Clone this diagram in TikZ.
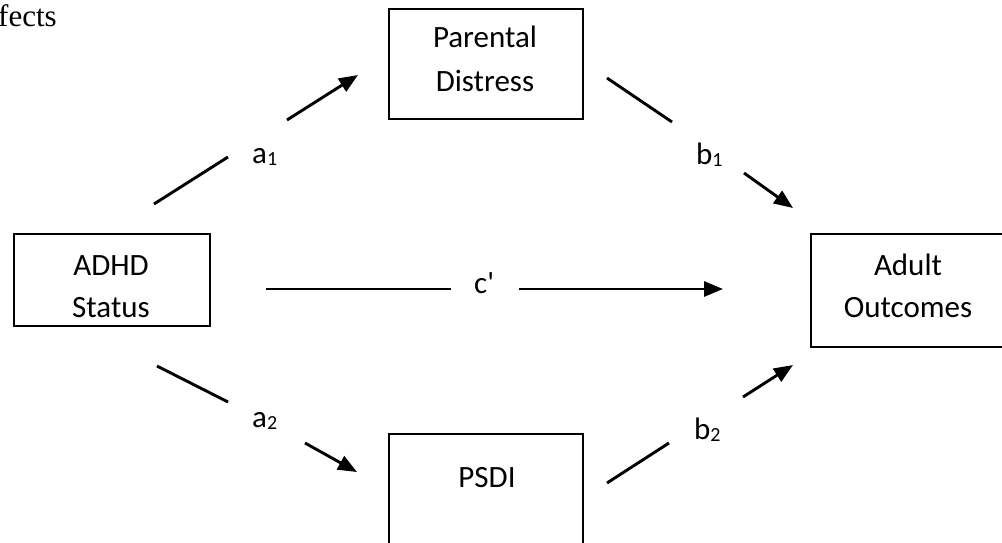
\documentclass[tikz,border=0pt]{standalone}
\usepackage{fontspec}
\setmainfont{Carlito}
\newfontfamily\captionserif{Liberation Serif}
\usetikzlibrary{arrows.meta}
% small lowered index for the path labels
\newcommand\lowidx[1]{\raisebox{-2.5pt}{\fontsize{20}{20}\selectfont #1}}

\begin{document}
\begin{tikzpicture}[x=1pt,y=-1pt,
  box/.style={draw, line width=2.9pt, inner sep=0pt},
  txt/.style={font=\fontsize{31}{31}\selectfont, inner sep=0pt, anchor=base},
  pathlbl/.style={font=\fontsize{31}{31}\selectfont, inner sep=0pt, anchor=base west},
  seg/.style={line width=2.9pt},
  arr/.style={seg, -{Triangle[length=19pt,width=15pt]}}]
\useasboundingbox (0,0) rectangle (1002,543);

% heading fragment
\node[font=\captionserif\fontsize{31}{31}\selectfont, inner sep=0pt, anchor=base west] (head) at (-2,27) {fects};

% boxes
\node[box, minimum width=196pt, minimum height=92pt]  (adhd)  at (112,280)   {};
\node[box, minimum width=194pt, minimum height=110pt] (pd)    at (486,64)    {};
\node[box, minimum width=194pt, minimum height=110pt] (psdi)  at (486,489)   {};
\node[box, minimum width=194pt, minimum height=113pt] (adult) at (908,290.5) {};

% box texts
\node[txt] (adhd-1)  at (111,275) {ADHD};
\node[txt] (adhd-2)  at (111,317) {Status};
\node[txt] (pd-1)    at (485,48)  {Parental};
\node[txt] (pd-2)    at (485,92)  {Distress};
\node[txt] (psdi-1)  at (487,487) {PSDI};
\node[txt] (adult-1) at (908,275) {Adult};
\node[txt] (adult-2) at (908,317) {Outcomes};

% path labels
\node[pathlbl] (la1) at (252,163) {a\lowidx{1}};
\node[pathlbl] (la2) at (252,427) {a\lowidx{2}};
\node[pathlbl] (lb1) at (696,164) {b\lowidx{1}};
\node[pathlbl] (lb2) at (694,439) {b\lowidx{2}};
\node[pathlbl] (lc)  at (474,293) {c\textquotesingle};

% segment end points
\coordinate (a1s) at (154,204); \coordinate (a1m) at (228,157);
\coordinate (a1n) at (287,120); \coordinate (a1t) at (358,75);
\coordinate (b1s) at (607,78);  \coordinate (b1m) at (672,122);
\coordinate (b1n) at (744,173); \coordinate (b1t) at (793,208);
\coordinate (cs)  at (266,289); \coordinate (cm)  at (451,289);
\coordinate (cn)  at (519,289); \coordinate (ct)  at (723,289);
\coordinate (a2s) at (157,366); \coordinate (a2m) at (228,402);
\coordinate (a2n) at (305,443); \coordinate (a2t) at (357,472);
\coordinate (b2s) at (607,483); \coordinate (b2m) at (669,443);
\coordinate (b2n) at (743,397); \coordinate (b2t) at (793,365);

% connectors
\draw[seg] (a1s) -- (a1m);  \draw[arr] (a1n) -- (a1t);
\draw[seg] (b1s) -- (b1m);  \draw[arr] (b1n) -- (b1t);
\draw[seg] (cs) -- (cm);    \draw[arr] (cn) -- (ct);
\draw[seg] (a2s) -- (a2m);  \draw[arr] (a2n) -- (a2t);
\draw[seg] (b2s) -- (b2m);  \draw[arr] (b2n) -- (b2t);
\end{tikzpicture}
\end{document}
